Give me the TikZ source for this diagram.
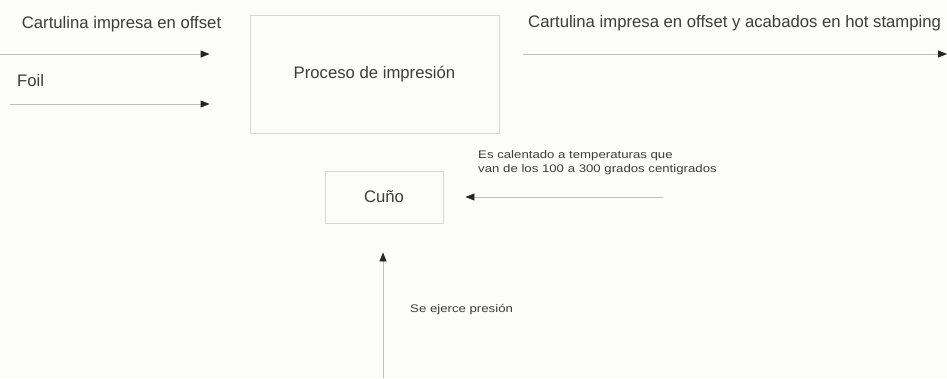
\documentclass[tikz,border=0pt]{standalone}
\usepackage{fontspec}
\setmainfont{Liberation Sans}
\usetikzlibrary{arrows.meta}
\definecolor{papel}{RGB}{252,252,249}
\definecolor{linea}{RGB}{190,190,190}
\definecolor{marco}{RGB}{215,215,215}
\definecolor{tinta}{RGB}{60,60,60}
\tikzset{
  caja/.style={draw=marco, line width=0.8pt, inner sep=0pt, text=tinta},
  flujo/.style={draw=linea, line width=0.8pt, -{Triangle[length=9pt,width=7pt,color=black!85]}},
  etiqueta/.style={text=tinta, inner sep=0pt, font=\fontsize{16.7}{20}\selectfont},
  nota/.style={text=tinta, inner sep=0pt, xscale=1.2, align=left, font=\fontsize{11}{14}\selectfont}
}
\begin{document}
\begin{tikzpicture}[x=1pt,y=-1pt]
\def\anchoimg{947}
\def\altoimg{378}
\fill[papel] (0,0) rectangle (\anchoimg,\altoimg);
\useasboundingbox (0,0) rectangle (\anchoimg,\altoimg);

% cajas
\node[caja, minimum width=249pt, minimum height=118pt, etiqueta] (proceso) at (374.5,74) {Proceso de impresión};
\node[caja, minimum width=118pt, minimum height=52pt, etiqueta] (cuno) at (384,197) {Cuño};

% entradas y salida
\coordinate (cartin) at (0,54);
\coordinate (foilin) at (10,104);
\coordinate (salida) at (\anchoimg,54);
\draw[flujo, shorten >=40pt] (cartin) -- (cartin -| proceso.west);
\draw[flujo, shorten >=40pt] (foilin) -- (foilin -| proceso.west);
\draw[flujo, shorten <=24pt] (proceso.east |- salida) -- (salida);

\node[etiqueta, anchor=base west] (tcart) at (21.7,28) {Cartulina impresa en offset};
\node[etiqueta, anchor=base west] (tfoil) at (17,86) {Foil};
\node[etiqueta, anchor=base west] (tsalida) at (528,27) {Cartulina impresa en offset y acabados en hot stamping};

% calor y presion sobre el cuno
\coordinate (calor) at (663,197);
\coordinate (presion) at (383,\altoimg);
\draw[flujo, shorten >=22pt] (calor) -- (cuno.east);
\draw[flujo, shorten >=29pt] (presion) -- (presion |- cuno.south);

\node[nota, anchor=north west] (tcalor) at (478,150) {Es calentado a temperaturas que\\van de los 100 a 300 grados centigrados};
\node[nota, anchor=base west] (tpresion) at (410,312) {Se ejerce presión};
\end{tikzpicture}
\end{document}
